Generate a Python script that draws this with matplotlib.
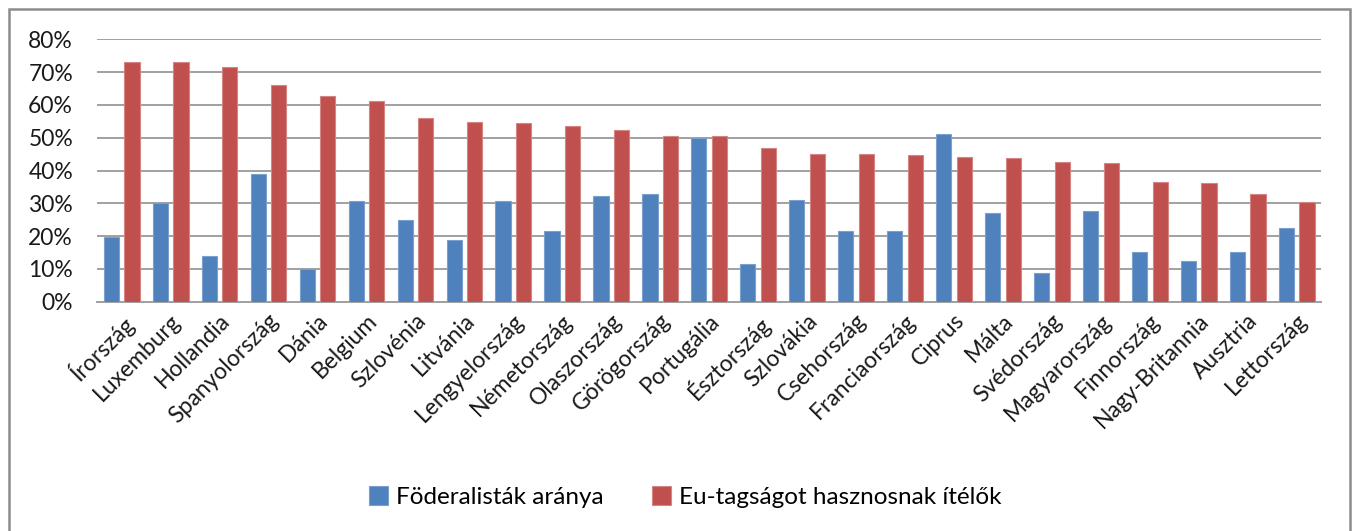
import matplotlib
matplotlib.use("Agg")
import matplotlib.pyplot as plt
from matplotlib.patches import Rectangle
from matplotlib.ticker import FuncFormatter, MultipleLocator
import numpy as np

categories = ["Írország", "Luxemburg", "Hollandia", "Spanyolország", "Dánia", "Belgium",
              "Szlovénia", "Litvánia", "Lengyelország", "Németország", "Olaszország",
              "Görögország", "Portugália", "Észtország", "Szlovákia", "Csehország",
              "Franciaország", "Ciprus", "Málta", "Svédország", "Magyarország",
              "Finnország", "Nagy-Britannia", "Ausztria", "Lettország"]
federalists = [19.8, 30.2, 13.8, 38.8, 10.1, 30.8, 24.8, 18.7, 30.8, 21.5, 32.1,
               32.9, 50.0, 11.4, 30.9, 21.5, 21.5, 51.0, 26.9, 8.7, 27.6,
               15.1, 12.3, 15.1, 22.4]
beneficial = [73.1, 73.1, 71.5, 66.0, 62.7, 61.1, 55.9, 54.8, 54.5, 53.5, 52.3,
              50.6, 50.6, 47.0, 45.0, 45.0, 44.6, 44.2, 43.8, 42.6, 42.4,
              36.5, 36.1, 32.9, 30.3]
series_names = ["Föderalisták aránya", "Eu-tagságot hasznosnak ítélők"]

plt.rcParams['font.family'] = ['Lato', 'DejaVu Sans']

W, H = 1357, 531
fig = plt.figure(figsize=(W/100, H/100), dpi=100)
ax = fig.add_axes([96.7/W, 1 - 301.7/H, (1320.7-96.7)/W, (301.7-39.3)/H])

x = np.arange(len(categories))
bw = 0.31
ax.bar(x - 0.20, federalists, width=bw, color="#4F81BD", edgecolor="#7BA0CD",
       linewidth=0.8, label=series_names[0], zorder=3)
ax.bar(x + 0.22, beneficial, width=bw, color="#C0504D", edgecolor="#D58583",
       linewidth=0.8, label=series_names[1], zorder=3)

ax.set_xlim(-0.5, len(categories) - 0.5)
ax.set_ylim(0, 80)
ax.yaxis.set_major_locator(MultipleLocator(10))
ax.yaxis.set_major_formatter(FuncFormatter(lambda v, p: f"{v:.0f}%"))
ax.grid(axis='y', color="#A0A0A0", linewidth=1.4, zorder=0)
for s in ["top", "right", "left"]:
    ax.spines[s].set_visible(False)
ax.spines["bottom"].set_color("#A0A0A0")
ax.spines["bottom"].set_linewidth(1.4)
ax.tick_params(axis='y', length=0, pad=17, labelsize=16.5, labelcolor="#1a1a1a")
ax.tick_params(axis='x', length=0, pad=6, labelsize=16.5, labelcolor="#1a1a1a")
ax.set_xticks(x)
ax.set_xticklabels(categories, rotation=45, ha='right', rotation_mode='anchor')

leg = fig.legend(loc='center', bbox_to_anchor=(685/W, 1 - 497/H), ncol=2, frameon=False,
                 fontsize=17.5, handlelength=0.8, handleheight=0.8, handletextpad=0.3,
                 columnspacing=2.0)

fig.patches.append(Rectangle((9/W, -0.05), (1350-9)/W, 1 - 9/H + 0.05,
                             transform=fig.transFigure, fill=False,
                             edgecolor="#8C8C8C", linewidth=1.8))

fig.savefig("out.png", dpi=100)
